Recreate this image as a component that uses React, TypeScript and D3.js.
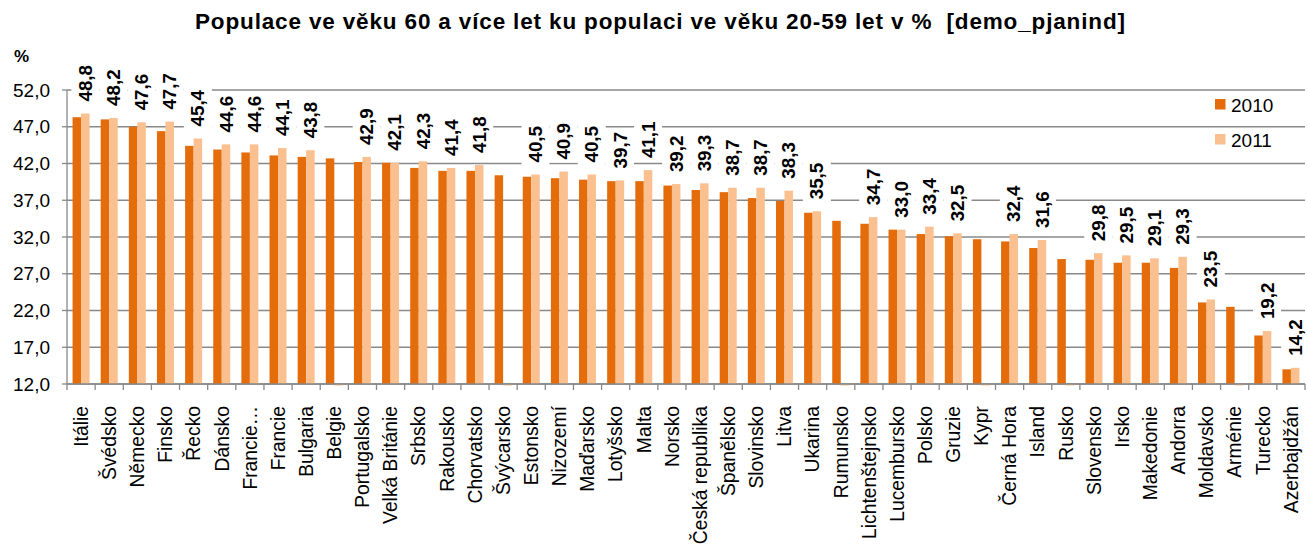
import React from "react";
import * as d3 from "d3";

const categories = ["Itálie","Švédsko","Německo","Finsko","Řecko","Dánsko","Francie…","Francie","Bulgaria","Belgie","Portugalsko","Velká Británie","Srbsko","Rakousko","Chorvatsko","Švýcarsko","Estonsko","Nizozemí","Maďarsko","Lotyšsko","Malta","Norsko","Česká republika","Španělsko","Slovinsko","Litva","Ukarina","Rumunsko","Lichtenštejnsko","Lucembursko","Polsko","Gruzie","Kypr","Černá Hora","Island","Rusko","Slovensko","Irsko","Makedonie","Andorra","Moldavsko","Arménie","Turecko","Azerbajdžán"];

const values2010 = [48.3,48.0,47.0,46.4,44.4,43.9,43.5,43.1,42.9,42.7,42.2,42.1,41.4,41.0,41.0,40.4,40.2,40.0,39.8,39.6,39.6,39.0,38.4,38.1,37.3,36.9,35.3,34.2,33.8,33.0,32.4,32.1,31.7,31.4,30.5,29.0,28.9,28.5,28.5,27.8,23.1,22.5,18.6,14.0];

const values2011: (number | null)[] = [48.8,48.2,47.6,47.7,45.4,44.6,44.6,44.1,43.8,null,42.9,42.1,42.3,41.4,41.8,null,40.5,40.9,40.5,39.7,41.1,39.2,39.3,38.7,38.7,38.3,35.5,null,34.7,33.0,33.4,32.5,null,32.4,31.6,null,29.8,29.5,29.1,29.3,23.5,null,19.2,14.2];

const yTicks = [12,17,22,27,32,37,42,47,52];
const seriesNames = ["2010","2011"];
const seriesColors = ["#E46C0A","#FAC090"];

const title = "Populace ve věku 60 a více let ku populaci ve věku 20-59 let v %  [demo_pjanind]";

const W = 1307, H = 548;
const FONT = "'Liberation Sans', Arial, sans-serif";

export default function App() {
  const x = d3.scaleBand<string>().domain(categories).range([67, 1305]).paddingInner(0).paddingOuter(0);
  const y = d3.scaleLinear().domain([12, 52]).range([384, 90]);
  const bw = 8.5;
  const fmt = (v: number) => d3.format(".1f")(v).replace(".", ",");
  const lblFs = 18.8;
  const gridColor = "#898989";

  return (
    <svg width={W} height={H} style={{ position: "absolute", left: 0, top: 0, background: "#fff" }} fontFamily={FONT}>
      <rect x={0} y={0} width={W} height={H} fill="#fff" />
      <text x={195} y={28.5} textLength={930} lengthAdjust="spacing" fontWeight="bold" fontSize={22.5} fill="#000" style={{ whiteSpace: "pre" }}>{title}</text>
      <text x={14} y={62} fontWeight="bold" fontSize={17} fill="#000">%</text>

      {/* gridlines */}
      {yTicks.map((t) => (
        <g key={t}>
          <line x1={67} x2={1305} y1={y(t)} y2={y(t)} stroke={gridColor} strokeWidth={1.3} />
          <line x1={62} x2={67} y1={y(t)} y2={y(t)} stroke={gridColor} strokeWidth={1.3} />
          <text x={50} y={y(t)} dy="0.35em" textAnchor="end" fontSize={19} fill="#000">{fmt(t)}</text>
        </g>
      ))}

      {/* bars */}
      {categories.map((c, i) => {
        const cx = (x(c) as number) + x.bandwidth() / 2;
        const v0 = values2010[i];
        const v1 = values2011[i];
        return (
          <g key={c}>
            <rect x={cx - bw} y={y(v0)} width={bw} height={y(12) - y(v0)} fill={seriesColors[0]} />
            {v1 != null ? (
              <rect x={cx} y={y(v1)} width={bw} height={y(12) - y(v1)} fill={seriesColors[1]} />
            ) : (
              <rect x={cx} y={y(12)} width={bw} height={1.5} fill={seriesColors[1]} />
            )}
          </g>
        );
      })}

      {/* axes */}
      <line x1={67} x2={67} y1={y(52)} y2={y(12)} stroke={gridColor} strokeWidth={1.3} />
      <line x1={67} x2={1305} y1={y(12)} y2={y(12)} stroke={gridColor} strokeWidth={1.3} />
      {categories.map((c) => (
        <line key={"t" + c} x1={(x(c) as number) + x.bandwidth()} x2={(x(c) as number) + x.bandwidth()} y1={y(12)} y2={y(12) + 6} stroke={gridColor} strokeWidth={1.3} />
      ))}
      <line x1={67} x2={67} y1={y(12)} y2={y(12) + 6} stroke={gridColor} strokeWidth={1.3} />

      {/* data labels */}
      {categories.map((c, i) => {
        const v1 = values2011[i];
        if (v1 == null) return null;
        const cx = (x(c) as number) + x.bandwidth() / 2 + bw / 2;
        const start = y(v1) - 12;
        const len = 1.946 * lblFs;
        return (
          <g key={"l" + c}>
            <rect x={cx - 14} y={start - len - 3} width={28} height={len + 6} fill="#fff" />
            <text transform={`translate(${cx},${start}) rotate(-90)`} dy="0.35em" fontWeight="bold" fontSize={lblFs} fill="#000">{fmt(v1)}</text>
          </g>
        );
      })}

      {/* category labels */}
      {categories.map((c) => {
        const cx = (x(c) as number) + x.bandwidth() / 2;
        return (
          <text key={"c" + c} transform={`translate(${cx},406) rotate(-90)`} dy="0.35em" textAnchor="end" fontSize={19.3} fill="#000">{c}</text>
        );
      })}

      {/* legend */}
      {seriesNames.map((s, i) => (
        <g key={s}>
          <rect x={1215} y={99 + i * 35} width={10.5} height={10.5} fill={seriesColors[i]} />
          <text x={1231} y={111.7 + i * 35} fontSize={19} fill="#000">{s}</text>
        </g>
      ))}
    </svg>
  );
}
